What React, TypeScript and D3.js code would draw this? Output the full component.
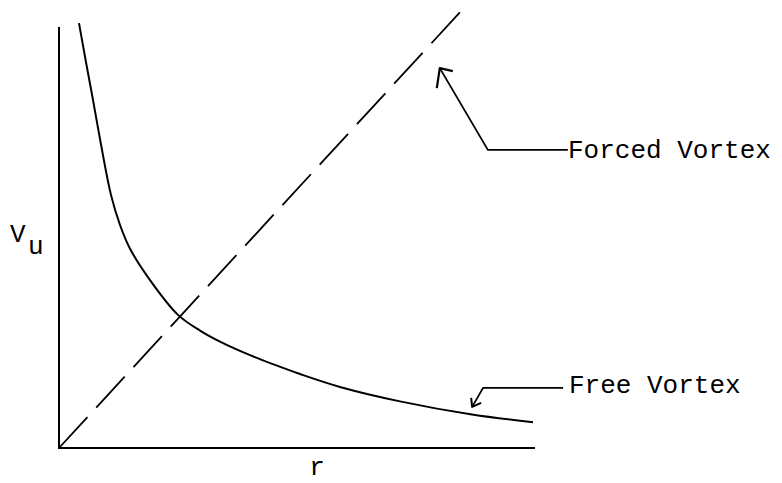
import React from "react";
import * as d3 from "d3";

// Free vortex curve points (r, Vu)
const freeR = [0.42, 0.567, 0.714, 0.861, 1.092, 1.282, 1.492, 1.912, 2.5, 2.962, 3.382, 4.013, 4.538, 5.063, 5.903, 7.164, 8.676, 9.958];
const freeV = [10.02, 9.1, 8.21, 7.29, 5.97, 5.26, 4.7, 3.96, 3.14, 2.77, 2.51, 2.19, 1.96, 1.745, 1.44, 1.1, 0.79, 0.61];
// Forced vortex (straight line through origin)
const forcedR = [0, 8.45];
const forcedV = [0, 10.31];

const labels = { forced: "Forced Vortex", free: "Free Vortex", x: "r", y: "V", ySub: "u" };

const W = 782, H = 483;
const FONT = "'Liberation Mono', 'DejaVu Sans Mono', monospace";

export default function App() {
  const x = d3.scaleLinear().domain([0, 10]).range([59, 535]);
  const y = d3.scaleLinear().domain([0, 10]).range([448, 24]);

  const line = d3.line<[number, number]>().x(d => x(d[0])).y(d => y(d[1]));
  const curve = d3.line<[number, number]>().x(d => x(d[0])).y(d => y(d[1])).curve(d3.curveCatmullRom.alpha(0.5));

  const freePts: [number, number][] = freeR.map((r, i) => [r, freeV[i]]);
  const forcedPts: [number, number][] = forcedR.map((r, i) => [r, forcedV[i]]);

  // annotation arrows (data coords)
  const forcedArrow: [number, number][] = [[10.69, 7.03], [9.01, 7.03], [8.0, 8.96]];
  const forcedHead = `M${x(8.0) + 13},${y(8.96) + 3} L${x(8.0)},${y(8.96)} L${x(8.0) - 3},${y(8.96) + 20}`;
  const freeArrow: [number, number][] = [[10.59, 1.42], [8.91, 1.42], [8.68, 0.97]];
  const freeHead = `M${x(8.68) - 1},${y(0.97) - 9} L${x(8.68)},${y(0.97)} L${x(8.68) + 9},${y(0.97) - 4}`;

  return (
    <svg width={W} height={H} style={{ position: "absolute", left: 0, top: 0, background: "#fff" }}>
      <rect width={W} height={H} fill="#fff" />
      {/* axes */}
      <line x1={x(0)} x2={x(0)} y1={y(0)} y2={27} stroke="#000" strokeWidth={2} />
      <line x1={x(0) - 1} x2={x(10)} y1={y(0)} y2={y(0)} stroke="#000" strokeWidth={2} />
      {/* forced vortex */}
      <path d={line(forcedPts) || ""} fill="none" stroke="#000" strokeWidth={1.8} strokeDasharray="42,13" />
      {/* free vortex */}
      <path d={curve(freePts) || ""} fill="none" stroke="#000" strokeWidth={2} />
      {/* annotations */}
      <path d={line(forcedArrow) || ""} fill="none" stroke="#000" strokeWidth={1.8} />
      <path d={forcedHead} fill="none" stroke="#000" strokeWidth={2.2} strokeLinejoin="round" />
      <path d={line(freeArrow) || ""} fill="none" stroke="#000" strokeWidth={1.8} />
      <path d={freeHead} fill="none" stroke="#000" strokeWidth={2} strokeLinejoin="round" />
      <g fontFamily={FONT} fontSize={26} fill="#000">
        <text x={568} y={158}>{labels.forced}</text>
        <text x={569} y={393}>{labels.free}</text>
        <text x={317} y={475} textAnchor="middle">{labels.x}</text>
        <text x={10} y={242}>{labels.y}</text>
        <text x={28} y={254}>{labels.ySub}</text>
      </g>
    </svg>
  );
}
